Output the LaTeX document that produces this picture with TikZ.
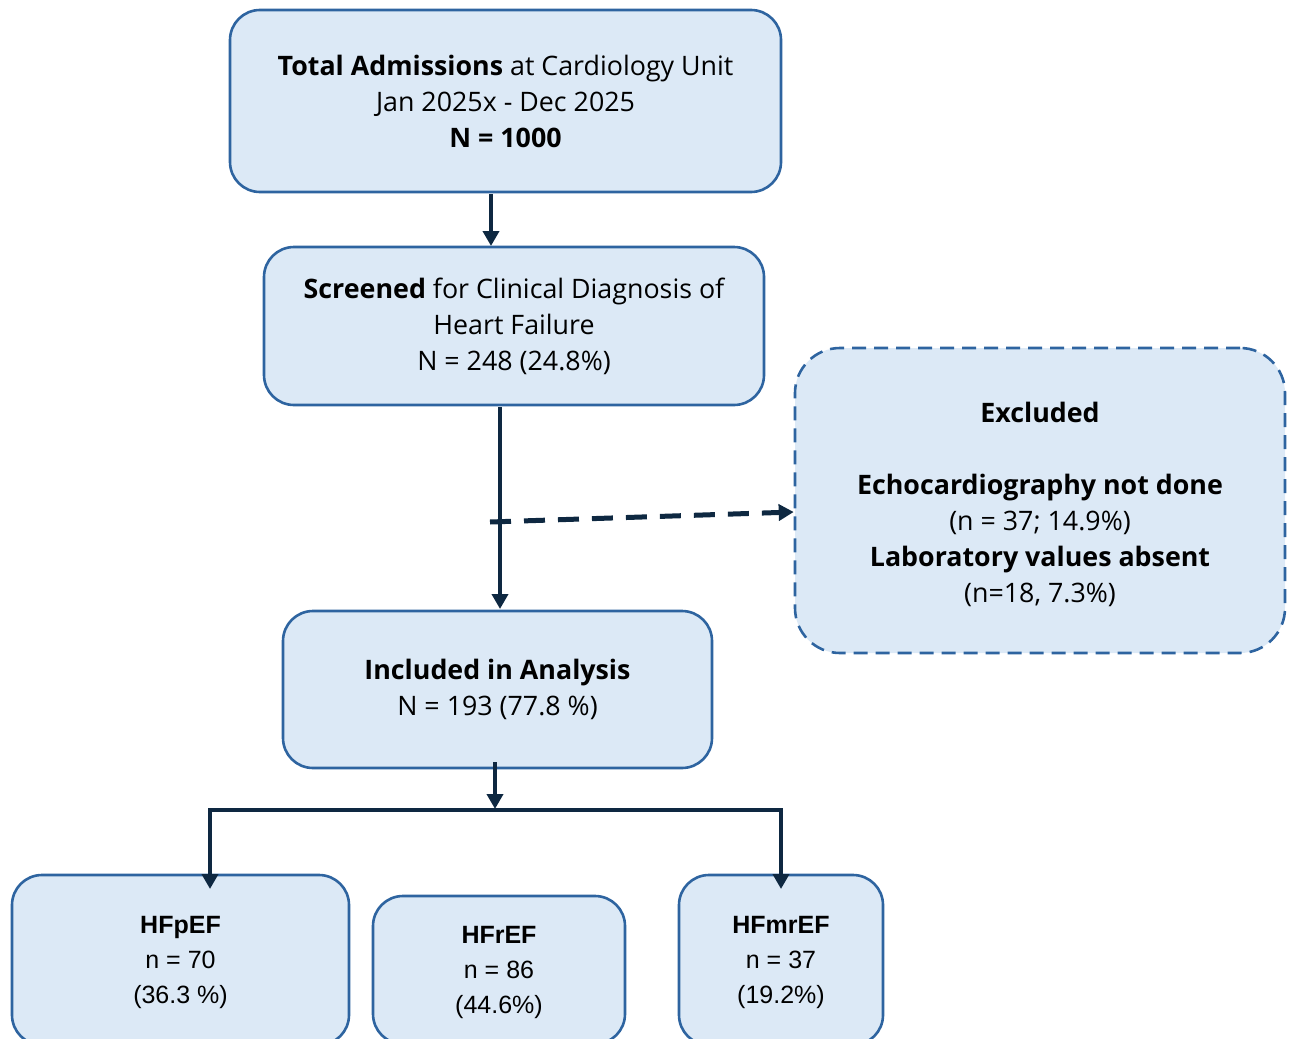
\documentclass[tikz,border=0pt]{standalone}
\usepackage{fontspec}
\setmainfont{Open Sans}
\newfontfamily\narrowfont{Liberation Sans}
\usetikzlibrary{arrows.meta}
\definecolor{boxfill}{HTML}{DCE9F6}
\definecolor{boxline}{HTML}{2E64A0}
\definecolor{arrowc}{HTML}{0E2841}
\begin{document}
\begin{tikzpicture}[x=1pt,y=-1pt,
  box/.style={draw=boxline, fill=boxfill, line width=2.6pt, rounded corners=30pt,
    align=center, inner sep=0pt, font=\fontsize{26.8}{36}\selectfont},
  exbox/.style={box, dash pattern=on 14pt off 8pt, rounded corners=45pt},
  smallbox/.style={box, font=\narrowfont\fontsize{25}{35}\selectfont},
  arr/.style={draw=arrowc, line width=4.5pt, -{Triangle[length=15pt,width=16pt]}},
  darr/.style={arr, line width=5pt, dash pattern=on 21pt off 13pt}
]
\useasboundingbox (0,0) rectangle (1292,1038);
\clip (0,0) rectangle (1292,1038);

\node[box, minimum width=551pt, minimum height=182pt] (total) at (505.5,101)
  {\textbf{Total Admissions} at Cardiology Unit\\Jan 2025x - Dec 2025\\\textbf{N = 1000}};
\node[box, minimum width=500pt, minimum height=158pt] (screen) at (514,326)
  {\textbf{Screened} for Clinical Diagnosis of\\Heart Failure\\N = 248 (24.8\%)};
\node[box, minimum width=429pt, minimum height=157pt] (incl) at (497.5,689.5)
  {\textbf{Included in Analysis}\\N = 193 (77.8 \%)};
\node[exbox, minimum width=490pt, minimum height=305pt] (excl) at (1040,500.5)
  {\rule{0pt}{28pt}\textbf{Excluded}\\[36pt]\textbf{Echocardiography not done}\\(n = 37; 14.9\%)\\\textbf{Laboratory values absent}\\(n=18, 7.3\%)};

\node[smallbox, minimum width=337pt, minimum height=170pt] (pef) at (180.5,960)
  {\rule{0pt}{22pt}\textbf{HFpEF}\\n = 70\\(36.3 \%)};
\node[smallbox, minimum width=252pt, minimum height=148pt] (ref) at (499,970)
  {\rule{0pt}{22pt}\textbf{HFrEF}\\n = 86\\(44.6\%)};
\node[smallbox, minimum width=204pt, minimum height=170pt] (mref) at (781,960)
  {\rule{0pt}{22pt}\textbf{HFmrEF}\\n = 37\\(19.2\%)};

% connectors
\coordinate (a1s) at (491,194);
\coordinate (a1e) at (491,246);
\draw[arr] (a1s) -- (a1e);

\coordinate (a2s) at (500,407);
\coordinate (a2e) at (500,609);
\draw[arr] (a2s) -- (a2e);

\coordinate (ds) at (490,522);
\coordinate (de) at ([yshift=-11.5pt]excl.west);
\draw[darr] (ds) -- (de);

\coordinate (a3s) at (495,762);
\coordinate (a3e) at (495,809);
\draw[arr] (a3s) -- (a3e);

\coordinate (jc) at (495,810);
\coordinate (tl) at (210,889);
\coordinate (tr) at (781,889);
\draw[arr, line join=miter] (jc) -| (tl);
\draw[arr, line join=miter] (jc) -| (tr);
\end{tikzpicture}
\end{document}
